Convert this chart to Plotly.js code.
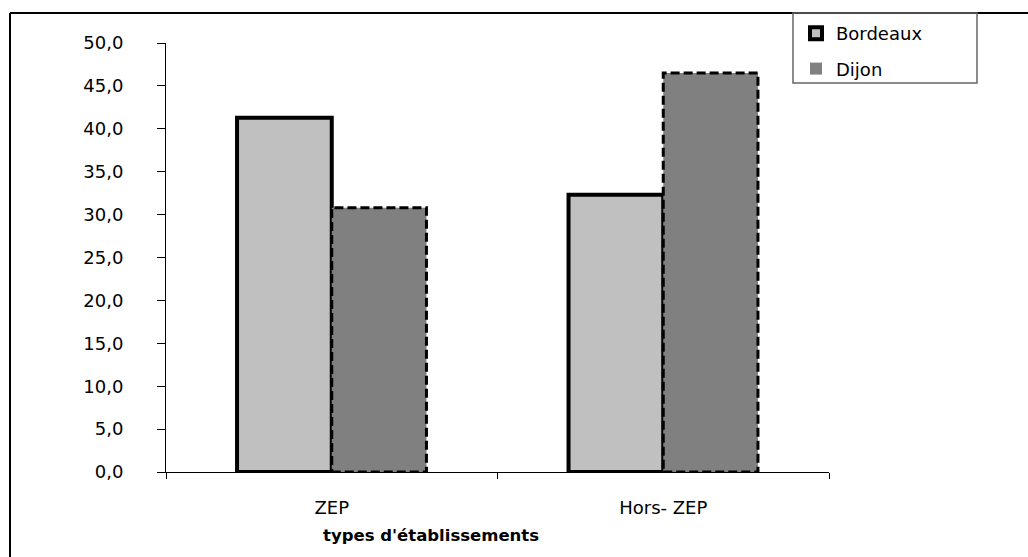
<!DOCTYPE html>
<html>
<head>
<meta charset="utf-8">
<script src="https://cdn.plot.ly/plotly-3.0.1.min.js"></script>
<style>
  html, body { margin: 0; padding: 0; background: #ffffff; }
  #chart { width: 1028px; height: 557px; }
</style>
</head>
<body>
<div id="chart"></div>
<script>
// ---- data ----
const categories = ["ZEP", "Hors- ZEP"];
const bordeauxValues = [41.3, 32.3];
const dijonValues = [30.8, 46.5];
const seriesNames = ["Bordeaux", "Dijon"];
const yTickValues = [0, 5, 10, 15, 20, 25, 30, 35, 40, 45, 50];

// ---- geometry helpers ----
const W = 1028, H = 557;
const M = { l: 166, r: 199, t: 43, b: 85 };
const plotW = W - M.l - M.r, plotH = H - M.t - M.b;
const px = (x) => (x - M.l) / plotW;          // pixel x -> paper x
const py = (y) => (H - M.b - y) / plotH;      // pixel y -> paper y

const FONT = "DejaVu Sans";
const bargap = 1.5 / 3.5;
const barW = (1 - bargap) / 2;

const traces = [
  {
    type: "bar",
    name: seriesNames[0],
    x: categories,
    y: bordeauxValues,
    legendgroup: "a",
    marker: { color: "#C0C0C0", line: { color: "#000000", width: 4 } },
    hoverinfo: "x+y+name"
  },
  {
    type: "bar",
    name: seriesNames[1],
    x: categories,
    y: dijonValues,
    legendgroup: "b",
    marker: { color: "#808080", line: { color: "#000000", width: 0 } },
    hoverinfo: "x+y+name"
  }
];

// dashed outlines of Dijon bars, derived from the data through the axis scales
const shapes = dijonValues.map((v, i) => ({
  type: "rect", xref: "x", yref: "y", layer: "above",
  x0: i, x1: i + barW, y0: 0, y1: v,
  line: { color: "#000000", width: 3, dash: "9px,4px" },
  fillcolor: "rgba(0,0,0,0)"
}));

// outer frame (top and left edges visible) and legend box
shapes.push(
  { type: "line", xref: "paper", yref: "paper", x0: px(10), x1: px(1030), y0: py(13), y1: py(13),
    line: { color: "#000000", width: 2 } },
  { type: "line", xref: "paper", yref: "paper", x0: px(10), x1: px(10), y0: py(13), y1: py(560),
    line: { color: "#000000", width: 2 } },
  { type: "rect", xref: "paper", yref: "paper", x0: px(793), x1: px(977), y0: py(83), y1: py(13),
    line: { color: "#666666", width: 1.5 }, fillcolor: "rgba(255,255,255,0)" }
);

const layout = {
  width: W, height: H,
  margin: M,
  paper_bgcolor: "#ffffff",
  plot_bgcolor: "#ffffff",
  separators: ", ",
  font: { family: FONT, size: 18, color: "#000000" },
  barmode: "group",
  bargap: bargap,
  bargroupgap: 0,
  showlegend: true,
  legend: {
    x: px(796), y: py(15), xanchor: "left", yanchor: "top",
    bgcolor: "rgba(0,0,0,0)", borderwidth: 0,
    font: { family: FONT, size: 18, color: "#000000" },
    tracegroupgap: 9, traceorder: "grouped"
  },
  xaxis: {
    type: "category",
    showline: true, linecolor: "#000000", linewidth: 1,
    ticks: "outside", ticklen: 6, tickcolor: "#000000", tickwidth: 1,
    tickson: "boundaries",
    ticklabelstandoff: 19,
    showgrid: false, zeroline: false,
    tickfont: { family: FONT, size: 18, color: "#000000" }
  },
  yaxis: {
    range: [0, 50],
    tickmode: "array",
    tickvals: yTickValues,
    tickformat: ".1f",
    showline: true, linecolor: "#000000", linewidth: 1,
    ticks: "outside", ticklen: 8, tickcolor: "#000000", tickwidth: 1,
    ticklabelstandoff: 30,
    showgrid: false, zeroline: false,
    tickfont: { family: FONT, size: 18, color: "#000000" }
  },
  shapes: shapes,
  annotations: [
    {
      text: "<b>types d'établissements</b>",
      xref: "paper", yref: "paper", x: px(431), y: py(535),
      xanchor: "center", yanchor: "middle", showarrow: false,
      font: { family: FONT, size: 16.5, color: "#000000" }
    }
  ]
};

Plotly.newPlot("chart", traces, layout, { displayModeBar: false, staticPlot: true });
</script>
</body>
</html>
